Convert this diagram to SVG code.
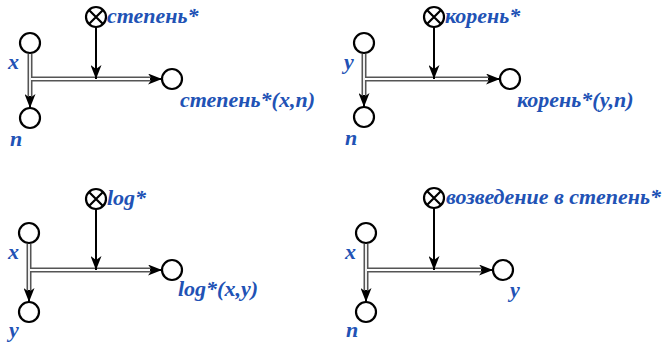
<svg xmlns="http://www.w3.org/2000/svg" width="664" height="343" viewBox="0 0 664 343">
<style>
.n{fill:#fff;stroke:#000;stroke-width:2.2}
.op{fill:#fff;stroke:#000;stroke-width:2.2}
.t{font-family:"Liberation Serif","Times New Roman",serif;font-style:italic;font-weight:bold;font-size:22px;fill:#2152b5}
.dbo{stroke:#555;stroke-width:5;fill:none}
.dbi{stroke:#fff;stroke-width:1.8;fill:none}
.ar{stroke:#000;stroke-width:2;fill:none}
</style>
<defs>
<marker id="ah" viewBox="0 0 14 11" refX="14" refY="5.5" markerWidth="14" markerHeight="11" markerUnits="userSpaceOnUse" orient="auto">
<path d="M0,0 L14,5.5 L0,11 L4,5.5 Z" fill="#000"/>
</marker>
<g id="xop"><circle r="10" class="op"/><path d="M-7,-7 L7,7 M-7,7 L7,-7" stroke="#000" stroke-width="2.2"/></g>
</defs>

<g id="connectors">
<!-- TL -->
<path class="dbo" d="M30,54 V99 M30,79 H152"/>
<path class="dbi" d="M30,54 V99 M31,79 H152"/>
<path class="ar" d="M30,96 V108" marker-end="url(#ah)"/>
<path class="ar" d="M150,79 H162" marker-end="url(#ah)"/>
<path class="ar" d="M96,27 V79" marker-end="url(#ah)"/>
<!-- TR -->
<path class="dbo" d="M364,54 V98 M364,79 H490"/>
<path class="dbi" d="M364,54 V98 M365,79 H490"/>
<path class="ar" d="M364,95 V107" marker-end="url(#ah)"/>
<path class="ar" d="M488,79 H500" marker-end="url(#ah)"/>
<path class="ar" d="M434,27 V79" marker-end="url(#ah)"/>
<!-- BL -->
<path class="dbo" d="M29,244 V292 M29,270 H152"/>
<path class="dbi" d="M29,244 V292 M30,270 H152"/>
<path class="ar" d="M29,290 V302" marker-end="url(#ah)"/>
<path class="ar" d="M150,270 H162" marker-end="url(#ah)"/>
<path class="ar" d="M96,209 V270" marker-end="url(#ah)"/>
<!-- BR -->
<path class="dbo" d="M366,244 V292 M366,270 H483"/>
<path class="dbi" d="M366,244 V292 M367,270 H483"/>
<path class="ar" d="M366,290 V302" marker-end="url(#ah)"/>
<path class="ar" d="M481,270 H493" marker-end="url(#ah)"/>
<path class="ar" d="M434,208 V270" marker-end="url(#ah)"/>
</g>

<!-- TL -->
<g id="op-stepen"><use href="#xop" x="96" y="17"/><text class="t" x="107" y="23">степень*</text></g>
<g id="tl-x"><circle class="n" cx="30" cy="43" r="10"/><text class="t" x="8" y="69">x</text></g>
<g id="tl-n"><circle class="n" cx="30" cy="118" r="10"/><text class="t" x="10" y="146">n</text></g>
<g id="tl-out"><circle class="n" cx="172" cy="79" r="10"/><text class="t" x="180" y="107">степень*(x,n)</text></g>
<!-- TR -->
<g id="op-koren"><use href="#xop" x="434" y="17"/><text class="t" x="445" y="23">корень*</text></g>
<g id="tr-y"><circle class="n" cx="364" cy="43" r="10"/><text class="t" x="344" y="69">y</text></g>
<g id="tr-n"><circle class="n" cx="364" cy="117" r="10"/><text class="t" x="345" y="145">n</text></g>
<g id="tr-out"><circle class="n" cx="510" cy="79" r="10"/><text class="t" x="517" y="107">корень*(y,n)</text></g>
<!-- BL -->
<g id="op-log"><use href="#xop" x="96" y="199"/><text class="t" x="107" y="205">log*</text></g>
<g id="bl-x"><circle class="n" cx="29" cy="233" r="10"/><text class="t" x="8" y="259">x</text></g>
<g id="bl-y"><circle class="n" cx="29" cy="312" r="10"/><text class="t" x="9" y="337">y</text></g>
<g id="bl-out"><circle class="n" cx="172" cy="270" r="10"/><text class="t" x="178" y="296">log*(x,y)</text></g>
<!-- BR -->
<g id="op-vozv"><use href="#xop" x="434" y="198"/><text class="t" x="446" y="204">возведение в степень*</text></g>
<g id="br-x"><circle class="n" cx="366" cy="233" r="10"/><text class="t" x="345" y="259">x</text></g>
<g id="br-n"><circle class="n" cx="366" cy="312" r="10"/><text class="t" x="346" y="337">n</text></g>
<g id="br-out"><circle class="n" cx="503" cy="270" r="10"/><text class="t" x="510" y="297">y</text></g>
</svg>
